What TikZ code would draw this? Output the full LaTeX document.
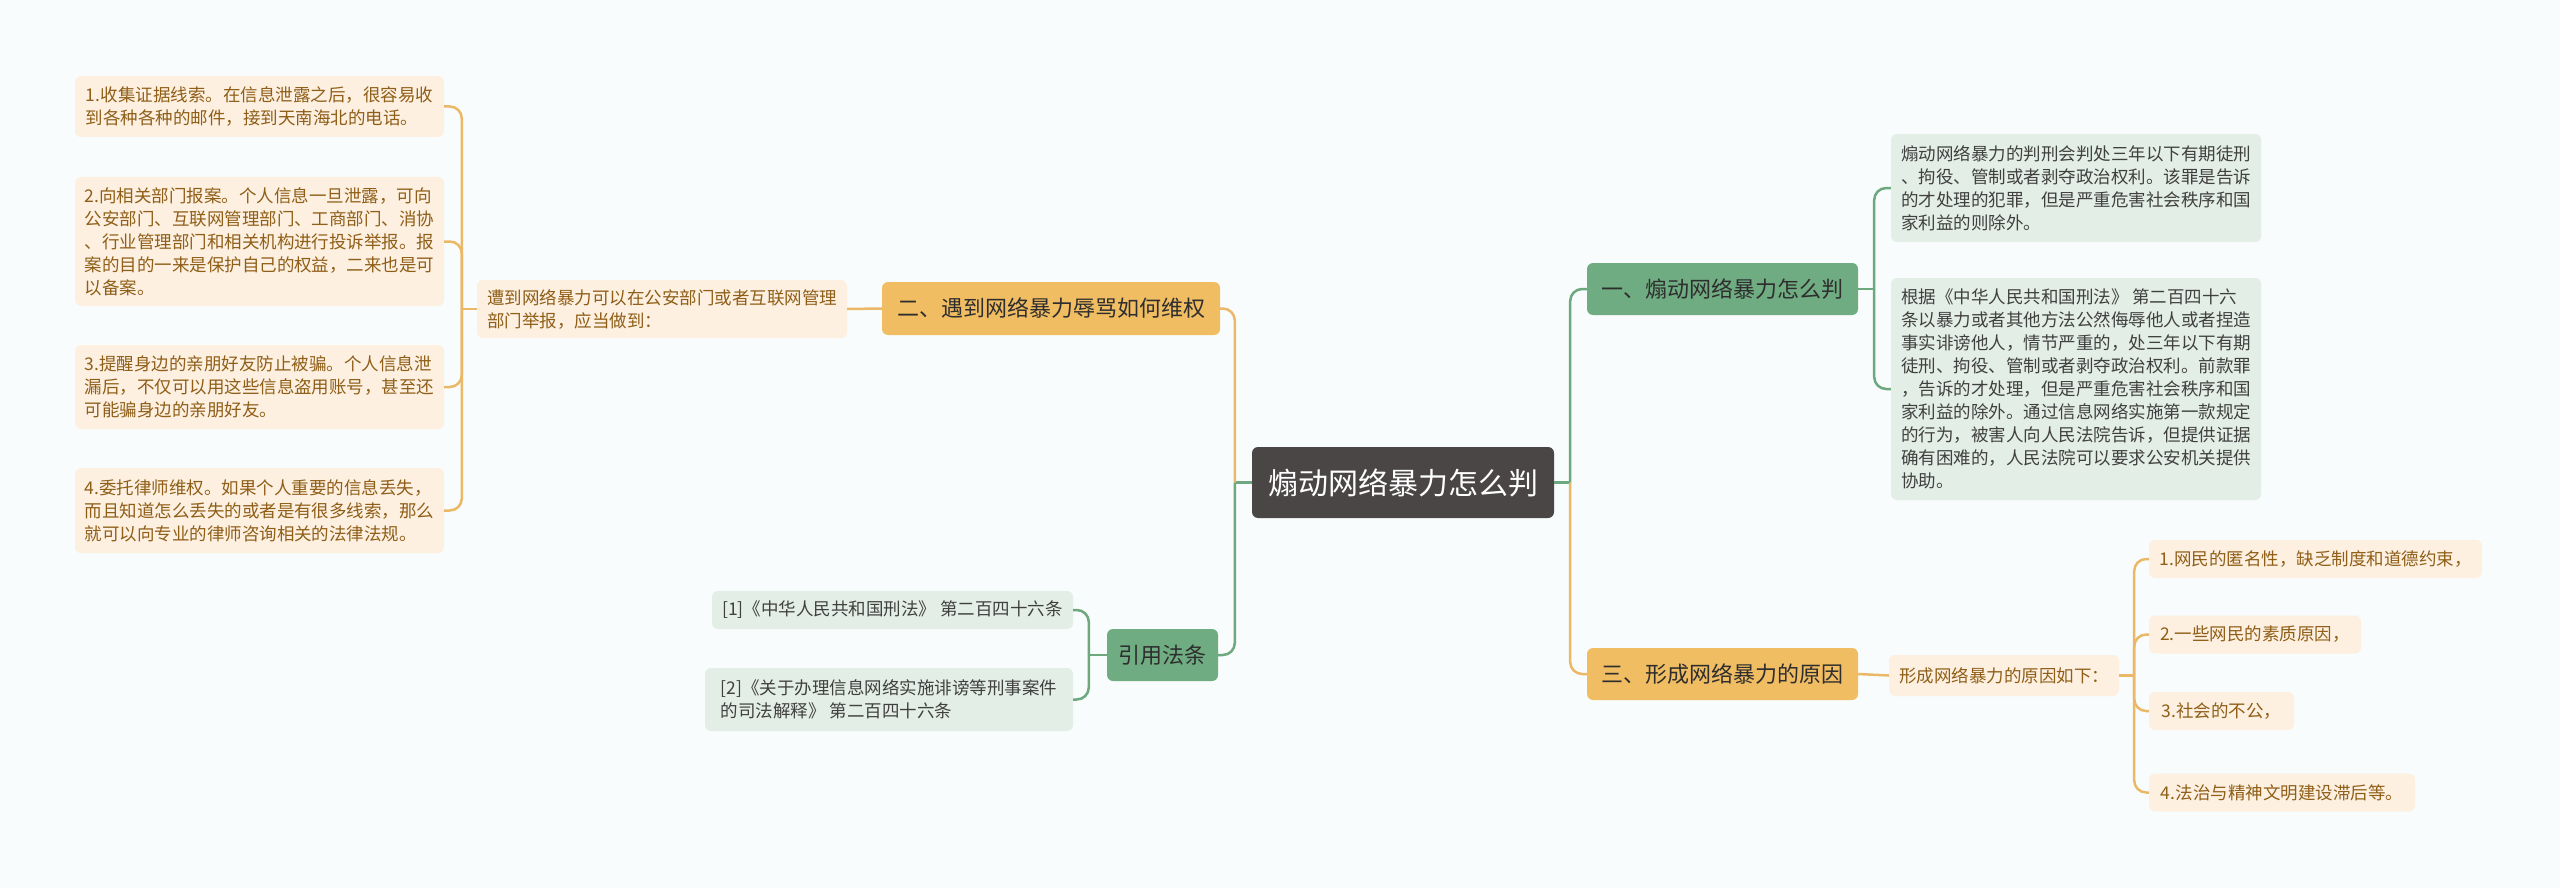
\documentclass[tikz,border=0pt]{standalone}
\usepackage{fontspec}
\setmainfont{Noto Sans CJK SC}
\definecolor{bgc}{RGB}{248,252,252}
\definecolor{rootc}{RGB}{75,70,70}
\definecolor{obrc}{RGB}{241,189,99}
\definecolor{gbrc}{RGB}{112,172,130}
\definecolor{oleafc}{RGB}{253,240,225}
\definecolor{gleafc}{RGB}{227,238,230}
\definecolor{otext}{RGB}{143,94,23}
\definecolor{gtext}{RGB}{64,64,64}
\definecolor{brtext}{RGB}{46,46,46}
\definecolor{olinec}{RGB}{235,184,104}
\definecolor{glinec}{RGB}{109,168,127}
\begin{document}
\begin{tikzpicture}[x=1pt,y=-1pt,
  box/.style={rounded corners=6pt, inner sep=0pt, align=left, anchor=center},
  rootbox/.style={box, fill=rootc, text=white, font=\fontsize{30}{36}\selectfont},
  obr/.style={box, fill=obrc, text=brtext, font=\fontsize{22}{26}\selectfont},
  gbr/.style={box, fill=gbrc, text=brtext, font=\fontsize{22}{26}\selectfont},
  oleaf/.style={box, fill=oleafc, text=otext, font=\fontsize{17.5}{23}\selectfont},
  gleaf/.style={box, fill=gleafc, text=gtext, font=\fontsize{17.5}{23}\selectfont},
  oc/.style={draw=olinec, line width=2.5pt, rounded corners=12pt},
  gc/.style={draw=glinec, line width=2.5pt, rounded corners=12pt}]
\fill[bgc] (0,0) rectangle (2560,888);
\useasboundingbox (0,0) rectangle (2560,888);

% root
\node[rootbox, minimum width=302pt, minimum height=71pt] (root) at (1403,482.5) {煽动网络暴力怎么判};

% branch 1
\node[gbr, minimum width=271pt, minimum height=52pt] (b1) at (1722.5,289) {一、煽动网络暴力怎么判};
\node[gleaf, minimum width=370pt, minimum height=108pt] (b1c1) at (2076,188) {煽动网络暴力的判刑会判处三年以下有期徒刑\\、拘役、管制或者剥夺政治权利。该罪是告诉\\的才处理的犯罪，但是严重危害社会秩序和国\\家利益的则除外。};
\node[gleaf, minimum width=370pt, minimum height=222pt] (b1c2) at (2076,389) {根据《中华人民共和国刑法》 第二百四十六\\条以暴力或者其他方法公然侮辱他人或者捏造\\事实诽谤他人，情节严重的，处三年以下有期\\徒刑、拘役、管制或者剥夺政治权利。前款罪\\，告诉的才处理，但是严重危害社会秩序和国\\家利益的除外。通过信息网络实施第一款规定\\的行为，被害人向人民法院告诉，但提供证据\\确有困难的，人民法院可以要求公安机关提供\\协助。};

% branch 3
\node[obr, minimum width=271pt, minimum height=52pt] (b3) at (1722.5,674) {三、形成网络暴力的原因};
\node[oleaf, minimum width=230pt, minimum height=41pt] (b3c) at (2004,675.5) {形成网络暴力的原因如下：};
\node[oleaf, minimum width=333pt, minimum height=38pt] (b3g1) at (2315.5,559) {1.网民的匿名性，缺乏制度和道德约束，};
\node[oleaf, minimum width=212pt, minimum height=38pt] (b3g2) at (2255,634.5) {2.一些网民的素质原因，};
\node[oleaf, minimum width=145pt, minimum height=38pt] (b3g3) at (2221.5,711) {3.社会的不公，};
\node[oleaf, minimum width=266pt, minimum height=38pt] (b3g4) at (2282,792.5) {4.法治与精神文明建设滞后等。};

% branch 2
\node[obr, minimum width=338pt, minimum height=53pt] (b2) at (1051,308.5) {二、遇到网络暴力辱骂如何维权};
\node[oleaf, minimum width=370pt, minimum height=58pt] (b2c) at (662,309) {遭到网络暴力可以在公安部门或者互联网管理\\部门举报，应当做到：};
\node[oleaf, minimum width=369pt, minimum height=61pt] (b2g1) at (259.5,106.5) {1.收集证据线索。在信息泄露之后，很容易收\\到各种各种的邮件，接到天南海北的电话。};
\node[oleaf, minimum width=369pt, minimum height=129pt] (b2g2) at (259.5,241.5) {2.向相关部门报案。个人信息一旦泄露，可向\\公安部门、互联网管理部门、工商部门、消协\\、行业管理部门和相关机构进行投诉举报。报\\案的目的一来是保护自己的权益，二来也是可\\以备案。};
\node[oleaf, minimum width=369pt, minimum height=84pt] (b2g3) at (259.5,387) {3.提醒身边的亲朋好友防止被骗。个人信息泄\\漏后，不仅可以用这些信息盗用账号，甚至还\\可能骗身边的亲朋好友。};
\node[oleaf, minimum width=369pt, minimum height=85pt] (b2g4) at (259.5,510.5) {4.委托律师维权。如果个人重要的信息丢失，\\而且知道怎么丢失的或者是有很多线索，那么\\就可以向专业的律师咨询相关的法律法规。};

% branch 4
\node[gbr, minimum width=111pt, minimum height=52pt] (b4) at (1162.5,655) {引用法条};
\node[gleaf, minimum width=361pt, minimum height=38pt] (b4c1) at (892.5,610) {[1]《中华人民共和国刑法》 第二百四十六条};
\node[gleaf, minimum width=368pt, minimum height=63pt] (b4c2) at (889,699.5) {[2]《关于办理信息网络实施诽谤等刑事案件\\的司法解释》 第二百四十六条};

% connectors: root
\coordinate (rj) at ([xshift=16pt]root.east);
\coordinate (lj) at ([xshift=-17pt]root.west);
\begin{scope}[on background layer/.style={}]
\draw[gc] (root.east) -- (rj);
\draw[gc] (root.west) -- (lj);
\draw[gc] (rj) |- (b1.west);
\draw[oc] (rj) |- (b3.west);
\draw[oc] (lj) |- (b2.east);
\draw[gc] (lj) |- (b4.east);
\end{scope}

% branch 1 children
\coordinate (j1) at ([xshift=16pt]b1.east);
\draw[gc] (b1.east) -- (j1);
\draw[gc] (j1) |- (b1c1.west);
\draw[gc] (j1) |- (b1c2.west);

% branch 3 children
\draw[oc] (b3.east) -- (b3c.west);
\coordinate (j3) at ([xshift=15pt]b3c.east);
\draw[oc] (b3c.east) -- (j3);
\draw[oc] (j3) |- (b3g1.west);
\draw[oc] (j3) |- (b3g2.west);
\draw[oc] (j3) |- (b3g3.west);
\draw[oc] (j3) |- (b3g4.west);

% branch 2 children
\draw[oc] (b2.west) -- (b2c.east);
\coordinate (j2) at ([xshift=-15pt]b2c.west);
\draw[oc] (b2c.west) -- (j2);
\draw[oc] (j2) |- (b2g1.east);
\draw[oc] (j2) |- (b2g2.east);
\draw[oc] (j2) |- (b2g3.east);
\draw[oc] (j2) |- (b2g4.east);

% branch 4 children
\coordinate (j4) at ([xshift=-18pt]b4.west);
\draw[gc] (b4.west) -- (j4);
\draw[gc] (j4) |- (b4c1.east);
\draw[gc] (j4) |- (b4c2.east);
\end{tikzpicture}
\end{document}
